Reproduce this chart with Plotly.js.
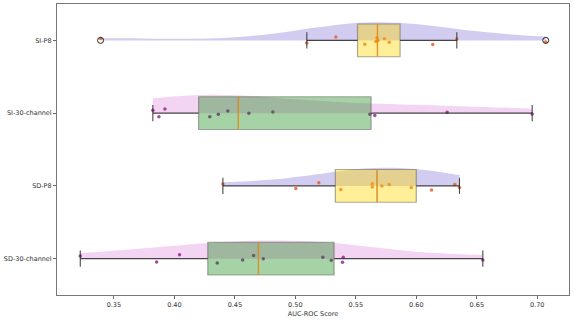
<!DOCTYPE html>
<html>
<head>
<meta charset="utf-8">
<script src="https://cdn.plot.ly/plotly-3.0.1.min.js"></script>
<style>
  html, body { margin: 0; padding: 0; background: #fff; }
  #plot { width: 574px; height: 320px; }
</style>
</head>
<body>
<div id="plot"></div>
<script>
// categories, top to bottom
const categories = ["SI-P8", "SI-30-channel", "SD-P8", "SD-30-channel"];

// AUC-ROC per run
const siP8  = [0.339, 0.5095, 0.5335, 0.5574, 0.5665, 0.5675, 0.5683, 0.5737, 0.5776, 0.6136, 0.6335, 0.707];
const si30  = [0.3822, 0.3872, 0.3922, 0.4293, 0.4363, 0.4442, 0.4616, 0.4814, 0.5616, 0.5657, 0.6255, 0.6958];
const sdP8  = [0.4401, 0.5004, 0.5194, 0.5376, 0.5636, 0.5636, 0.5715, 0.5776, 0.5958, 0.6126, 0.6318, 0.6357];
const sd30  = [0.3222, 0.3853, 0.4043, 0.4354, 0.4564, 0.4655, 0.4735, 0.5227, 0.5297, 0.539, 0.5396, 0.655];

const groups = [siP8, si30, sdP8, sd30];
const xTicks = [0.35, 0.40, 0.45, 0.50, 0.55, 0.60, 0.65, 0.70];

// styles: P8 vs 30-channel
const styleP8  = { violin: "rgba(106,90,205,0.3)", box: "rgba(255,215,0,0.4)", pts: "rgba(238,95,35,0.85)" };
const style30  = { violin: "rgba(218,112,214,0.3)", box: "rgba(0,128,0,0.35)", pts: "rgba(150,40,150,0.85)" };

const BOXW = 0.45;

// numpy style percentile (linear)
function pct(s, p) {
  const idx = (s.length - 1) * p;
  const lo = Math.floor(idx), hi = Math.ceil(idx);
  return s[lo] + (idx - lo) * (s[hi] - s[lo]);
}

function stats(vals) {
  const s = vals.slice().sort((a, b) => a - b);
  const q1 = pct(s, 0.25), med = pct(s, 0.5), q3 = pct(s, 0.75);
  const iqr = q3 - q1;
  const inside = s.filter(v => v >= q1 - 1.5 * iqr && v <= q3 + 1.5 * iqr);
  const lo = Math.min(...inside), hi = Math.max(...inside);
  const fliers = s.filter(v => v < lo || v > hi);
  const mean = s.reduce((a, b) => a + b, 0) / s.length;
  const sd = Math.sqrt(s.reduce((a, b) => a + (b - mean) ** 2, 0) / (s.length - 1));
  return { q1, med, q3, lo, hi, fliers, bw: sd * Math.pow(s.length, -0.2) }; // scott
}

const violins = [], whiskers = [], boxes = [], points = [], medians = [], flierTr = [];

groups.forEach((vals, i) => {
  const pos = categories.length - 1 - i;
  const st = stats(vals);
  const sty = categories[i].includes("P8") ? styleP8 : style30;

  // half violin (upper side)
  violins.push({
    type: "violin", orientation: "h", x: vals, y0: pos,
    side: "positive", spanmode: "hard", bandwidth: st.bw,
    width: 0.5, scalemode: "width",
    fillcolor: sty.violin, line: { width: 0 },
    points: false, box: { visible: false }, meanline: { visible: false },
    hoverinfo: "skip"
  });

  // jittered points (under the box)
  points.push({
    type: "box", orientation: "h", x: vals, y0: pos, width: BOXW,
    boxpoints: "all", jitter: 0.35, pointpos: 0,
    fillcolor: "rgba(0,0,0,0)", line: { width: 0 },
    marker: { color: sty.pts, size: 3.5, line: { width: 0 } },
    hoverinfo: "skip"
  });

  // box only, whiskers drawn separately
  boxes.push({
    type: "box", orientation: "h", y: [pos],
    q1: [st.q1], median: [st.med], q3: [st.q3],
    lowerfence: [st.q1], upperfence: [st.q3],
    width: BOXW, whiskerwidth: 0,
    fillcolor: sty.box, line: { color: "rgba(90,90,80,0.5)", width: 1.2 },
    hoverinfo: "skip"
  });

  const c = BOXW * 0.245;
  whiskers.push({
    type: "scatter", mode: "lines", hoverinfo: "skip",
    x: [st.lo, st.q1, null, st.q3, st.hi, null, st.lo, st.lo, null, st.hi, st.hi],
    y: [pos, pos, null, pos, pos, null, pos - c, pos + c, null, pos - c, pos + c],
    line: { color: "rgba(40,40,40,0.85)", width: 1.1 }
  });

  medians.push({
    type: "scatter", mode: "lines", hoverinfo: "skip",
    x: [st.med, st.med], y: [pos - BOXW / 2, pos + BOXW / 2],
    line: { color: "rgba(255,140,0,0.8)", width: 1.2 }
  });

  if (st.fliers.length) {
    flierTr.push({
      type: "scatter", mode: "markers", hoverinfo: "skip",
      x: st.fliers, y: st.fliers.map(() => pos),
      marker: { symbol: "circle-open", size: 6, color: "#222", line: { width: 1 } }
    });
  }
});

const all = groups.flat();
const xmin = Math.min(...all), xmax = Math.max(...all);
const pad = (xmax - xmin) * 0.05;

const tickFont = { family: "DejaVu Sans", size: 6.5, color: "#333" };

Plotly.newPlot("plot",
  [...violins, ...points, ...boxes, ...whiskers, ...flierTr, ...medians],
  {
    width: 574, height: 320,
    margin: { l: 57, r: 5, t: 4, b: 25 },
    showlegend: false,
    violinmode: "overlay", boxmode: "overlay",
    paper_bgcolor: "#fff", plot_bgcolor: "#fff",
    xaxis: {
      range: [xmin - pad, xmax + pad],
      tickvals: xTicks, tickformat: ".2f",
      ticks: "outside", ticklen: 3, tickcolor: "#444", tickwidth: 0.8,
      tickfont: tickFont,
      showline: true, mirror: true, linecolor: "#777", linewidth: 1,
      showgrid: false, zeroline: false,
      title: { text: "AUC-ROC Score", font: tickFont, standoff: 3 }
    },
    yaxis: {
      range: [-0.5, categories.length - 0.5],
      tickvals: categories.map((_, i) => categories.length - 1 - i),
      ticktext: categories,
      ticks: "outside", ticklen: 3, tickcolor: "#444", tickwidth: 0.8,
      tickfont: tickFont,
      showline: true, mirror: true, linecolor: "#777", linewidth: 1,
      showgrid: false, zeroline: false
    }
  },
  { staticPlot: true }
);
</script>
</body>
</html>
